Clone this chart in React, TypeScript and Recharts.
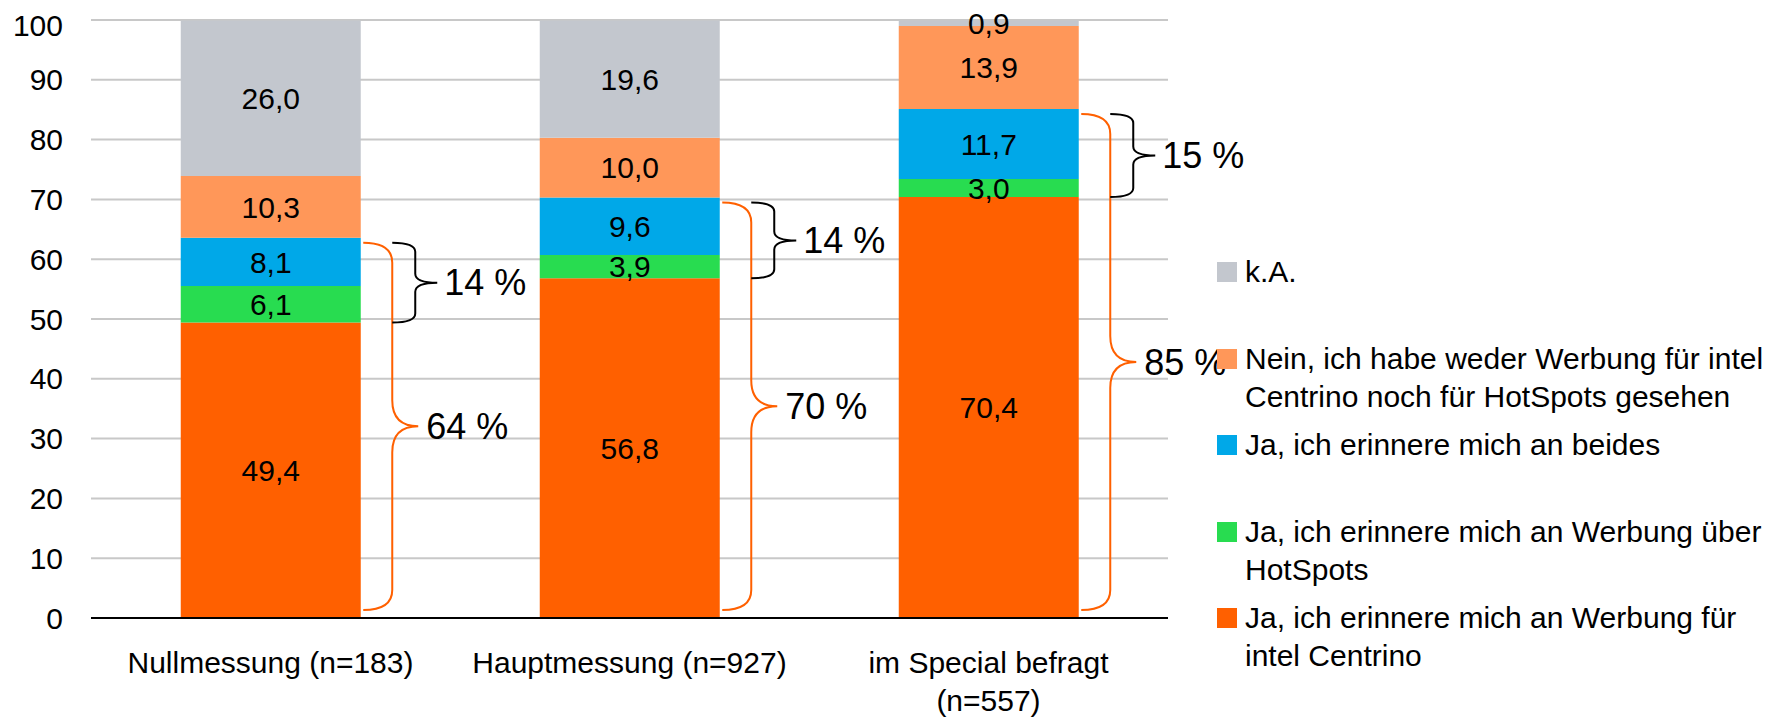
import {
  BarChart,
  Bar,
  XAxis,
  YAxis,
  CartesianGrid,
  LabelList,
  Legend,
  ReferenceArea,
} from "recharts";

const FONT = "'Liberation Sans', Arial, Helvetica, sans-serif";

// categories and x tick lines
const categories = ["Nullmessung (n=183)", "Hauptmessung (n=927)", "im Special befragt (n=557)"];
const categoryTickLines = [
  ["Nullmessung (n=183)"],
  ["Hauptmessung (n=927)"],
  ["im Special befragt", "(n=557)"],
];

// series values in %, stacked bottom to top
const centrinoValues = [49.4, 56.8, 70.4];
const hotspotValues = [6.1, 3.9, 3.0];
const beidesValues = [8.1, 9.6, 11.7];
const neinValues = [10.3, 10.0, 13.9];
const kaValues = [26.0, 19.6, 0.9];

const yTicks = [0, 10, 20, 30, 40, 50, 60, 70, 80, 90, 100];

const series = [
  { key: "centrino", lines: ["Ja, ich erinnere mich an Werbung für", "intel Centrino"], color: "#FF6000", values: centrinoValues },
  { key: "hotspots", lines: ["Ja, ich erinnere mich an Werbung über", "HotSpots"], color: "#28DC50", values: hotspotValues },
  { key: "beides", lines: ["Ja, ich erinnere mich an beides"], color: "#00A8E8", values: beidesValues },
  { key: "nein", lines: ["Nein, ich habe weder Werbung für intel", "Centrino noch für HotSpots gesehen"], color: "#FF9759", values: neinValues },
  { key: "ka", lines: ["k.A."], color: "#C3C7CE", values: kaValues },
];

const rows = categories.map((category, i) => {
  const row: Record<string, string | number> = { category };
  series.forEach((s) => (row[s.key] = s.values[i]));
  return row;
});

const round1 = (v: number) => Number(v.toFixed(1));

// braces: inner = remembered HotSpots/beides, outer = everything remembered
const braces = categories.flatMap((category, i) => {
  const base = centrinoValues[i];
  const extra = round1(hotspotValues[i] + beidesValues[i]);
  const total = round1(base + extra);
  return [
    { category, kind: "outer", from: 0, to: total, label: `${Math.round(total)} %` },
    { category, kind: "inner", from: base, to: total, label: `${Math.round(extra)} %` },
  ];
});

const braceStyle: Record<string, any> = {
  outer: { color: "#FF6000", end: 3, spine: 32, tip: 58, text: 66, r: 20, rMid: 26, insetTop: 5, insetBottom: 8 },
  inner: { color: "#000000", end: 32, spine: 55, tip: 77, text: 84, r: 9, rMid: 9, insetTop: 5, insetBottom: 0 },
};

const fmt = (v: any) => Number(v).toFixed(1).replace(".", ",");

function Brace(props: any) {
  const { x, y, width, height, kind, label } = props;
  const g = braceStyle[kind];
  // band is split 25% gap / 50% bar / 25% gap
  const barRight = x + width * 0.75;
  const top = y + g.insetTop;
  const bot = y + height - g.insetBottom;
  const mid = (top + bot) / 2;
  const e = barRight + g.end;
  const s = barRight + g.spine;
  const t = barRight + g.tip;
  const d =
    `M${e},${top} Q${s},${top} ${s},${top + g.r} L${s},${mid - g.rMid} Q${s},${mid} ${t},${mid} ` +
    `Q${s},${mid} ${s},${mid + g.rMid} L${s},${bot - g.r} Q${s},${bot} ${e},${bot}`;
  return (
    <g>
      <path d={d} fill="none" stroke={g.color} strokeWidth={2} />
      <text x={barRight + g.text} y={mid} dy="0.355em" fontSize={36} fill="#000" fontFamily={FONT}>
        {label}
      </text>
    </g>
  );
}

function CategoryTick(props: any) {
  const { x, y, payload } = props;
  const lines = categoryTickLines[payload.index] || [String(payload.value)];
  return (
    <text x={x} y={y + 55} textAnchor="middle" fontSize={30} fill="#000" fontFamily={FONT}>
      {lines.map((line, i) => (
        <tspan key={i} x={x} dy={i === 0 ? 0 : 38}>
          {line}
        </tspan>
      ))}
    </text>
  );
}

function LegendBox() {
  const entries = [...series].reverse();
  return (
    <div style={{ fontFamily: FONT, fontSize: 30, color: "#000" }}>
      {entries.map((s) => (
        <div key={s.key} style={{ height: 86.5, display: "flex", alignItems: "flex-start" }}>
          <div style={{ width: 20, height: 20, background: s.color, marginTop: 9, marginRight: 8, flex: "none" }} />
          <div style={{ lineHeight: "38px", whiteSpace: "nowrap" }}>
            {s.lines.map((line, i) => (
              <div key={i}>{line}</div>
            ))}
          </div>
        </div>
      ))}
    </div>
  );
}

export default function App() {
  return (
    <div style={{ fontFamily: FONT }}>
      <BarChart
        width={1783}
        height={715}
        data={rows}
        margin={{ top: 12, right: 623, bottom: 5, left: 0 }}
        barCategoryGap="25%"
        style={{ fontFamily: FONT }}
      >
        <CartesianGrid vertical={false} stroke="#c8c8c8" strokeWidth={2} />
        <XAxis
          dataKey="category"
          interval={0}
          height={100}
          tickSize={0}
          tickMargin={0}
          tickLine={false}
          axisLine={{ stroke: "#000", strokeWidth: 2 }}
          tick={<CategoryTick />}
        />
        <YAxis
          domain={[0, 100]}
          ticks={yTicks}
          width={83}
          axisLine={false}
          tickLine={false}
          tickSize={0}
          tickMargin={28}
          tick={{ fontSize: 30, fill: "#000", fontFamily: FONT }}
        />
        {series.map((s) => (
          <Bar
            key={s.key}
            dataKey={s.key}
            name={s.lines.join(" ")}
            stackId="a"
            fill={s.color}
            isAnimationActive={false}
          >
            <LabelList dataKey={s.key} position="center" formatter={fmt} fontSize={30} fill="#000" fontFamily={FONT} />
          </Bar>
        ))}
        {braces.map((b, i) => (
          <ReferenceArea
            key={i}
            x1={b.category}
            x2={b.category}
            y1={b.from}
            y2={b.to}
            ifOverflow="visible"
            shape={(p: any) => <Brace {...p} kind={b.kind} label={b.label} />}
          />
        ))}
        <Legend
          layout="vertical"
          align="center"
          verticalAlign="middle"
          content={<LegendBox />}
          wrapperStyle={{ left: 1209, top: 245, width: 570, height: 433 }}
        />
      </BarChart>
    </div>
  );
}
